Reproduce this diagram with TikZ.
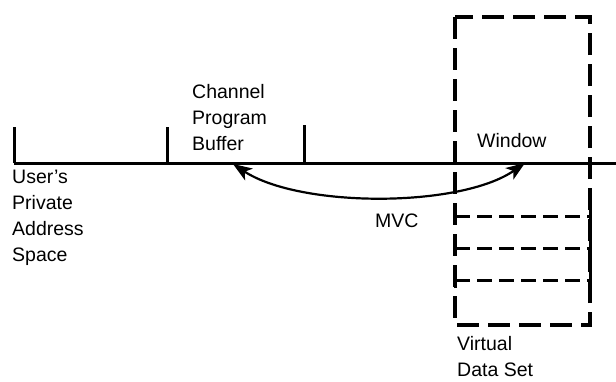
\documentclass[tikz,border=0pt]{standalone}
\usepackage{fontspec}
\setmainfont{Liberation Sans}
\usetikzlibrary{arrows.meta}
\begin{document}
\begin{tikzpicture}[x=1pt,y=-1pt,
  lbl/.style={font=\fontsize{19.5}{26}\selectfont, align=left, inner sep=0pt, anchor=base west},
  axis/.style={line width=3pt},
  tick/.style={line width=3pt},
  dbox/.style={line width=3.2pt, dash pattern=on 22pt off 9pt},
  drow/.style={line width=3pt, dash pattern=on 15pt off 7pt},
  mvc/.style={line width=2.2pt, {Stealth[length=19pt,width=14pt,inset=5pt]}-{Stealth[length=19pt,width=14pt,inset=5pt]}}]
  \useasboundingbox (0,0) rectangle (616,381);

  % address space line with boundary ticks
  \coordinate (a0) at (14,163);
  \coordinate (a1) at (616,163);
  \coordinate (t0) at (14,127);
  \coordinate (b0) at (167,163);
  \coordinate (t1) at (167,127);
  \coordinate (b1) at (304,163);
  \coordinate (t2) at (304,125);
  \draw[axis] (a0) -- (a1);
  \draw[tick] (a0) -- (t0);
  \draw[tick] (b0) -- (t1);
  \draw[tick] (b1) -- (t2);

  % virtual data set
  \coordinate (v0) at (455,17);
  \coordinate (v1) at (590,325);
  \draw[dbox] (v0) rectangle (v1);
  \foreach \y [count=\i] in {216,248,280} {
    \coordinate (l\i) at (455,\y);
    \coordinate (r\i) at (590,\y);
    \draw[drow] (l\i) -- (r\i);
    \draw[tick] ([yshift=-8pt]l\i) -- ([yshift=8pt]l\i);
    \draw[tick] ([yshift=-8pt]r\i) -- ([yshift=8pt]r\i);
  }

  % MVC transfer between buffer and window
  \coordinate (buf) at (233,164);
  \coordinate (win) at (525,163);
  \draw[mvc] (buf) .. controls (300,208) and (460,208) .. (win);

  % labels (base anchor sits on the last line)
  \node[lbl] (cpb) at (192,150) {Channel\\Program\\Buffer};
  \node[lbl] (upas) at (12,261) {User’s\\Private\\Address\\Space};
  \node[lbl] (wnd) at (477,147) {Window};
  \node[lbl] (mvcl) at (375,227) {MVC};
  \node[lbl] (vds) at (457,376) {Virtual\\Data Set};
\end{tikzpicture}
\end{document}
